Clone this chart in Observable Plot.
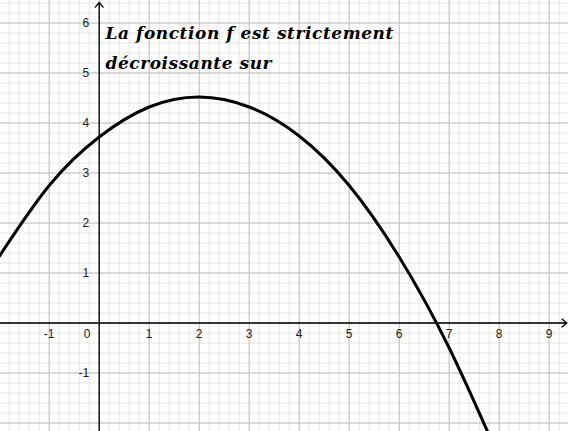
<!DOCTYPE html>
<html>
<head>
<meta charset="utf-8">
<script src="https://cdn.jsdelivr.net/npm/d3@7"></script>
<script src="https://cdn.jsdelivr.net/npm/@observablehq/plot@0.6"></script>
<style>
  html, body { margin: 0; padding: 0; background: #fff; overflow: hidden; }
  #chart svg { display: block; }
</style>
</head>
<body>
<div id="chart"></div>
<script>
// Curve points
const curveX = [-2, -1, 0, 1, 2, 3, 4, 5, 6, 7, 8];
const curveY = [1.33, 2.75, 3.72, 4.32, 4.52, 4.32, 3.74, 2.75, 1.32, -0.50, -2.70];

// Tick labels
const xTickValues = [-1, 1, 2, 3, 4, 5, 6, 7, 8, 9];
const yTickValues = [-1, 1, 2, 3, 4, 5, 6];
const originLabel = ["0"];

// Title text
const titleLines = ["La fonction f est strictement", "décroissante sur"];

// Grid
const majorX = d3.range(-1, 10);
const majorY = d3.range(-2, 7);
const minorX = d3.range(-10, 48).map(i => i / 5);
const minorY = d3.range(-11, 33).map(i => i / 5);

const curve = curveX.map((x, i) => ({x, y: curveY[i]}));

const xDomain = [-1.974, 9.386];
const yDomain = [-2.17, 6.45];

const chart = Plot.plot({
  width: 568,
  height: 431,
  margin: 0,
  x: {domain: xDomain, axis: null},
  y: {domain: yDomain, axis: null},
  style: {background: "#fff"},
  marks: [
    Plot.ruleX(minorX, {stroke: "#e6e6e6", strokeWidth: 1}),
    Plot.ruleY(minorY, {stroke: "#e6e6e6", strokeWidth: 1}),
    Plot.ruleX(majorX, {stroke: "#c0c0c0", strokeWidth: 1}),
    Plot.ruleY(majorY, {stroke: "#c0c0c0", strokeWidth: 1}),
    // axes with arrows
    Plot.arrow([0], {x1: xDomain[0], y1: 0, x2: 9.35, y2: 0, stroke: "#000", strokeWidth: 1.3, headLength: 7, headAngle: 80}),
    Plot.arrow([0], {x1: 0, y1: yDomain[0], x2: 0, y2: 6.41, stroke: "#000", strokeWidth: 1.3, headLength: 7, headAngle: 80}),
    // tick labels
    Plot.text(xTickValues, {x: d => d, y: 0, dy: 11, text: d => String(d), fontFamily: "Liberation Sans, Arial, sans-serif", fontSize: 12, fill: "#222"}),
    Plot.text(yTickValues, {x: 0, y: d => d, dx: -10, textAnchor: "end", text: d => String(d), fontFamily: "Liberation Sans, Arial, sans-serif", fontSize: 12, fill: "#222"}),
    Plot.text(originLabel, {x: 0, y: 0, dx: -12, dy: 11, text: d => d, fontFamily: "Liberation Sans, Arial, sans-serif", fontSize: 12, fill: "#222"}),
    // curve
    Plot.line(curve, {x: "x", y: "y", curve: "natural", stroke: "#000", strokeWidth: 3}),
    // title text
    Plot.text([titleLines.join("\n")], {frameAnchor: "top-left", dx: 105, dy: 18, lineAnchor: "top", lineHeight: 1.72, fontFamily: "DejaVu Serif, serif", fontStyle: "italic", fontWeight: "bold", fontSize: 17, fill: "#000"})
  ]
});
const txt = chart.querySelectorAll("text");
txt[txt.length - 1].setAttribute("letter-spacing", "0.55");
document.getElementById("chart").appendChild(chart);
</script>
</body>
</html>
